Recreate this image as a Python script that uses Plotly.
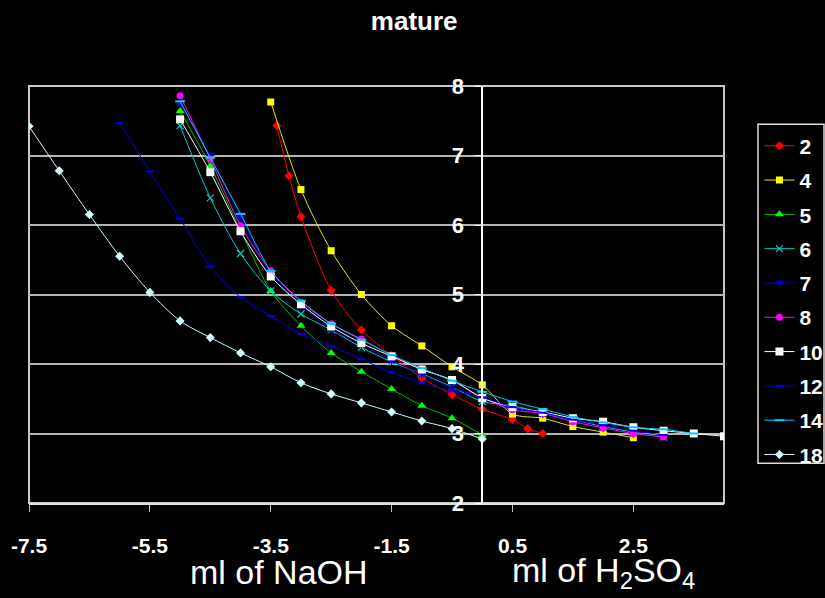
import plotly.graph_objects as go

# ---------------- data ----------------
x2 = [-3.4, -3.2, -3.0, -2.5, -2.0, -1.5, -1.0, -0.5, 0.0, 0.5, 0.75, 1.0]
y2 = [7.43, 6.71, 6.12, 5.06, 4.49, 4.12, 3.80, 3.56, 3.35, 3.20, 3.07, 3.00]

x4 = [-3.5, -3.0, -2.5, -2.0, -1.5, -1.0, -0.5, 0.0, 0.5, 1.0, 1.5, 2.0, 2.5]
y4 = [7.77, 6.51, 5.63, 5.00, 4.55, 4.26, 3.96, 3.70, 3.28, 3.22, 3.10, 3.02, 2.94]

x5 = [-5.0, -4.5, -4.0, -3.5, -3.0, -2.5, -2.0, -1.5, -1.0, -0.5, 0.0]
y5 = [7.64, 6.85, 5.92, 5.05, 4.55, 4.16, 3.89, 3.64, 3.40, 3.22, 2.98]

x6 = [-5.0, -4.5, -4.0, -3.5, -3.0, -2.5, -2.0, -1.5, -1.0, -0.5, 0.0, 0.5, 1.0, 1.5, 2.0, 2.5, 3.0]
y6 = [7.43, 6.39, 5.59, 5.05, 4.72, 4.49, 4.24, 4.03, 3.86, 3.67, 3.46, 3.40, 3.30, 3.20, 3.10, 3.02, 2.95]

x7 = [-5.0, -4.5, -4.0, -3.5, -3.0, -2.5, -2.0, -1.5, -1.0, -0.5, 0.0, 0.5, 1.0, 1.5, 2.0, 2.5, 3.0]
y7 = [7.75, 7.00, 6.12, 5.30, 4.85, 4.50, 4.28, 4.05, 3.85, 3.66, 3.52, 3.36, 3.28, 3.18, 3.08, 3.00, 2.96]

x8 = [-5.0, -4.5, -4.0, -3.5, -3.0, -2.5, -2.0, -1.5, -1.0, -0.5, 0.0, 0.5, 1.0, 1.5, 2.0, 2.5, 3.0]
y8 = [7.86, 6.95, 5.99, 5.34, 4.89, 4.58, 4.36, 4.12, 3.93, 3.76, 3.52, 3.34, 3.29, 3.17, 3.08, 3.00, 2.95]

x10 = [-5.0, -4.5, -4.0, -3.5, -3.0, -2.5, -2.0, -1.5, -1.0, -0.5, 0.0, 0.5, 1.0, 1.5, 2.0, 2.5, 3.0, 3.5, 4.0]
y10 = [7.52, 6.76, 5.91, 5.26, 4.86, 4.54, 4.30, 4.11, 3.92, 3.77, 3.51, 3.38, 3.31, 3.22, 3.17, 3.09, 3.04, 3.00, 2.96]

x12 = [-6.0, -5.5, -5.0, -4.5, -4.0, -3.5, -3.0, -2.5, -2.0, -1.5, -1.0, -0.5, 0.0, 0.5, 1.0, 1.5, 2.0, 2.5, 3.0]
y12 = [7.47, 6.77, 6.09, 5.40, 4.96, 4.69, 4.43, 4.26, 4.07, 3.88, 3.73, 3.61, 3.52, 3.38, 3.30, 3.20, 3.12, 3.04, 2.98]

x14 = [-5.0, -4.5, -4.0, -3.5, -3.0, -2.5, -2.0, -1.5, -1.0, -0.5, 0.0, 0.5, 1.0, 1.5, 2.0, 2.5, 3.0, 3.5]
y14 = [7.78, 6.97, 6.16, 5.34, 4.91, 4.58, 4.35, 4.13, 3.94, 3.76, 3.60, 3.46, 3.35, 3.24, 3.16, 3.09, 3.06, 3.00]

x18 = [-7.5, -7.0, -6.5, -6.0, -5.5, -5.0, -4.5, -4.0, -3.5, -3.0, -2.5, -2.0, -1.5, -1.0, -0.5, 0.0]
y18 = [7.42, 6.78, 6.15, 5.55, 5.03, 4.62, 4.38, 4.16, 3.96, 3.73, 3.57, 3.44, 3.31, 3.18, 3.07, 2.92]

x_tick_vals = [-7.5, -5.5, -3.5, -1.5, 0.5, 2.5]
x_tick_text = ["-7.5", "-5.5", "-3.5", "-1.5", "0.5", "2.5"]
y_tick_vals = [2, 3, 4, 5, 6, 7, 8]

series = [
    ("2", x2, y2, "#FF0000", "#FF0000", "diamond", 7, 0),
    ("4", x4, y4, "#E6E600", "#FFFF00", "square", 7, 0),
    ("5", x5, y5, "#00C000", "#00FF00", "triangle-up", 8, 0),
    ("6", x6, y6, "#00C8C8", "#00CCCC", "x-thin", 7, 1.2),
    ("7", x7, y7, "#0000CC", "#0000CC", "asterisk", 7, 1.2),
    ("8", x8, y8, "#FF00FF", "#FF00FF", "circle", 7, 0),
    ("10", x10, y10, "#FFFFFF", "#FFFFFF", "square", 8, 0),
    ("12", x12, y12, "#0000E0", "#0000E0", "line-ew", 6, 2),
    ("14", x14, y14, "#00CCFF", "#00CCFF", "line-ew", 7, 2),
    ("18", x18, y18, "#CCFFFF", "#CCFFFF", "diamond", 7, 0),
]

fig = go.Figure()
for name, xs, ys, lc, mc, sym, ms, mlw in series:
    marker = dict(symbol=sym, size=ms, color=mc)
    if mlw:
        marker["line"] = dict(color=mc, width=mlw)
    else:
        marker["line"] = dict(width=0)
    fig.add_trace(go.Scatter(
        x=xs, y=ys, name=name, mode="lines+markers",
        line=dict(color=lc, width=1, shape="spline", smoothing=0.8),
        marker=marker, legendgroup=name,
    ))

fig.update_layout(
    width=825, height=598,
    paper_bgcolor="black", plot_bgcolor="black",
    margin=dict(l=29, r=101, t=86, b=95, autoexpand=False),
    font=dict(family="Liberation Sans, Arial, sans-serif", color="white"),
    title=dict(text="<b>mature</b>", font=dict(size=26, color="white"),
               x=0.502, xref="container", y=0.965, yref="container",
               xanchor="center", yanchor="middle"),
    showlegend=True,
    legend=dict(x=1.051, xanchor="left", y=0.905, yanchor="top",
                bgcolor="rgba(0,0,0,0)", borderwidth=0,
                font=dict(size=21, color="white", weight="bold"),
                traceorder="grouped", tracegroupgap=4),
    xaxis=dict(range=[-7.5, 4], tickvals=x_tick_vals, ticktext=x_tick_text,
               showgrid=False, zeroline=False, showline=True, automargin=False,
               linecolor="#E0E0E0", linewidth=2,
               ticks="outside", ticklen=7, tickcolor="#C0C0C0", tickwidth=1,
               tickfont=dict(size=21, color="white", weight="bold"),
               ticklabelstandoff=16),
    yaxis=dict(range=[2, 8], tickvals=y_tick_vals, anchor="free", position=7.5 / 11.5,
               showgrid=True, gridcolor="#B4B4B4", gridwidth=1.5, automargin=False,
               zeroline=False, showline=True, linecolor="white", linewidth=1.5,
               ticks="outside", ticklen=7, tickcolor="white",
               tickfont=dict(size=22, color="white", weight="bold"),
               ticklabelstandoff=6),
)

# plot frame
fig.add_shape(type="rect", xref="paper", yref="paper", x0=0, x1=1, y0=0, y1=1,
              line=dict(color="#C8C8C8", width=2), layer="below")
# legend frame
fig.add_shape(type="rect", xref="paper", yref="paper", x0=1.0489, x1=1.1439,
              y0=0.0952, y1=0.908, line=dict(color="#DDDDDD", width=1.5))

fig.add_annotation(text="ml of NaOH", xref="paper", yref="paper",
                   x=0.359, y=-0.166, showarrow=False,
                   font=dict(size=34, color="white"), xanchor="center", yanchor="middle")
fig.add_annotation(text="ml of H<sub>2</sub>SO<sub>4</sub>", xref="paper", yref="paper",
                   x=0.826, y=-0.166, showarrow=False,
                   font=dict(size=34, color="white"), xanchor="center", yanchor="middle")

fig.write_html("out.html",
               config={"displayModeBar": False},
               post_script="document.body.style.margin='0';document.body.style.background='black';")
